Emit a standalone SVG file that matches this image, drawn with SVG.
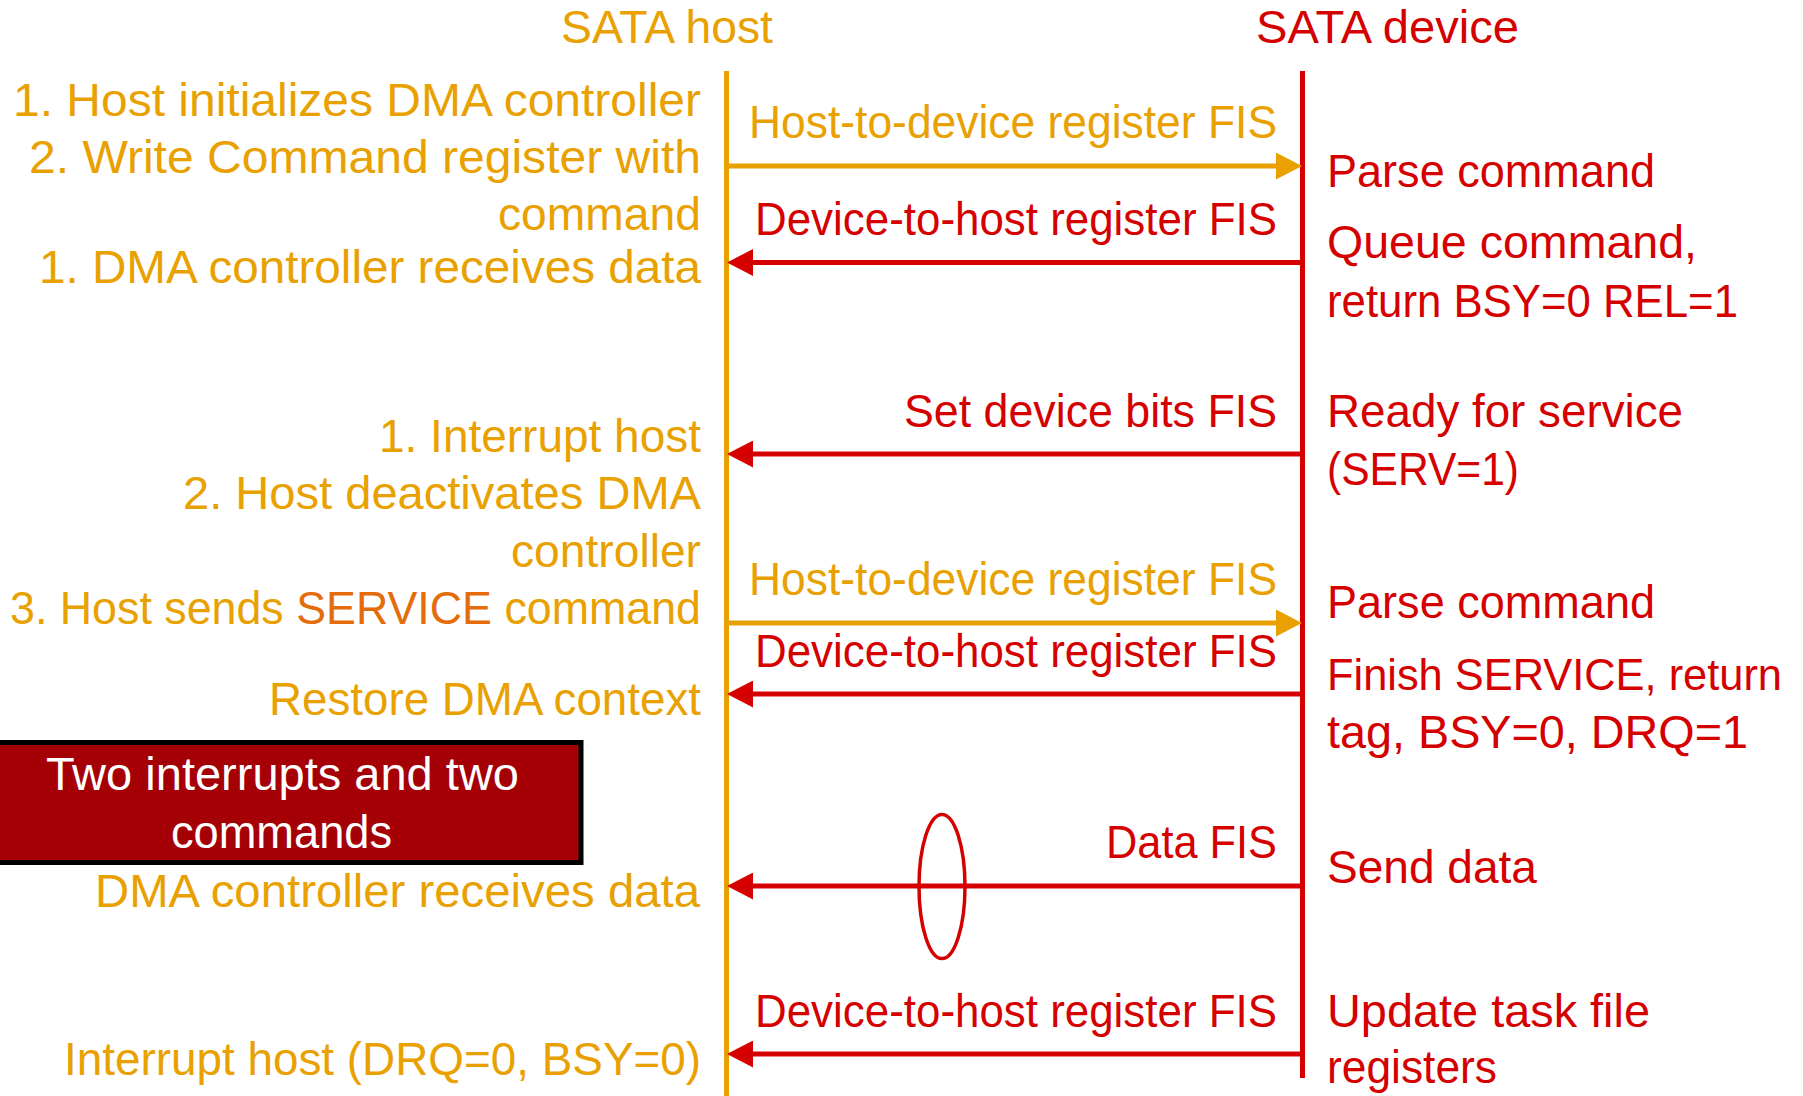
<svg xmlns="http://www.w3.org/2000/svg" width="1803" height="1096" viewBox="0 0 1803 1096">
  <style>
    text { font-family: "Liberation Sans", Arial, sans-serif; font-size: 47px; }
    .host { fill: #E8A100; }
    .dev { fill: #D50000; }
    .svc { fill: #E46C0A; }
    .white { fill: #FFFFFF; }
    .small { font-size: 44px; }
    .life-host { stroke: #E8A100; stroke-width: 5; fill: none; }
    .life-dev { stroke: #D50000; stroke-width: 5; fill: none; }
    .msg-h2d { stroke: #E8A100; stroke-width: 5; fill: none; marker-end: url(#headHost); }
    .msg-d2h { stroke: #D50000; stroke-width: 5; fill: none; marker-end: url(#headDev); }
  </style>
  <defs>
    <marker id="headHost" viewBox="0 0 26 27" refX="2" refY="13.5" markerWidth="26" markerHeight="27" markerUnits="userSpaceOnUse" orient="auto">
      <polygon points="0,0 26,13.5 0,27" fill="#E8A100"/>
    </marker>
    <marker id="headDev" viewBox="0 0 26 27" refX="2" refY="13.5" markerWidth="26" markerHeight="27" markerUnits="userSpaceOnUse" orient="auto">
      <polygon points="0,0 26,13.5 0,27" fill="#D50000"/>
    </marker>
  </defs>

  <rect width="1803" height="1096" fill="#FFFFFF"/>

  <!-- lifelines -->
  <g id="host">
    <text class="host" x="561" y="43" textLength="212" lengthAdjust="spacingAndGlyphs">SATA host</text>
    <line class="life-host" x1="726.5" y1="71" x2="726.5" y2="1096"/>
  </g>
  <g id="device">
    <text class="dev" x="1256" y="43" textLength="263" lengthAdjust="spacingAndGlyphs">SATA device</text>
    <line class="life-dev" x1="1302.5" y1="71" x2="1302.5" y2="1078"/>
  </g>

  <!-- messages between host and device -->
  <g id="connectors">
    <line class="msg-h2d" x1="729" y1="166" x2="1278" y2="166"/>
    <line class="msg-d2h" x1="1300" y1="262.5" x2="751" y2="262.5"/>
    <line class="msg-d2h" x1="1300" y1="454" x2="751" y2="454"/>
    <line class="msg-h2d" x1="729" y1="623" x2="1278" y2="623"/>
    <line class="msg-d2h" x1="1300" y1="694" x2="751" y2="694"/>
    <line class="msg-d2h" x1="1300" y1="886" x2="751" y2="886"/>
    <line class="msg-d2h" x1="1300" y1="1054" x2="751" y2="1054"/>
    <ellipse cx="942" cy="886.5" rx="23" ry="72" fill="none" stroke="#D50000" stroke-width="3.5"/>
  </g>

  <!-- message labels -->
  <g id="msg-labels">
    <text class="host" x="749" y="138" textLength="528" lengthAdjust="spacingAndGlyphs">Host-to-device register FIS</text>
    <text class="dev" x="755" y="235" textLength="522" lengthAdjust="spacingAndGlyphs">Device-to-host register FIS</text>
    <text class="dev" x="904" y="427" textLength="373" lengthAdjust="spacingAndGlyphs">Set device bits FIS</text>
    <text class="host" x="749" y="595" textLength="528" lengthAdjust="spacingAndGlyphs">Host-to-device register FIS</text>
    <text class="dev" x="755" y="667" textLength="522" lengthAdjust="spacingAndGlyphs">Device-to-host register FIS</text>
    <text class="dev" x="1106" y="858" textLength="171" lengthAdjust="spacingAndGlyphs">Data FIS</text>
    <text class="dev" x="755" y="1027" textLength="522" lengthAdjust="spacingAndGlyphs">Device-to-host register FIS</text>
  </g>

  <!-- host-side actions -->
  <g id="host-actions">
    <text class="host" x="13" y="116" textLength="688" lengthAdjust="spacingAndGlyphs">1. Host initializes DMA controller</text>
    <text class="host" x="29" y="173" textLength="672" lengthAdjust="spacingAndGlyphs">2. Write Command register with</text>
    <text class="host" x="498" y="230" textLength="203" lengthAdjust="spacingAndGlyphs">command</text>
    <text class="host" x="39" y="283" textLength="662" lengthAdjust="spacingAndGlyphs">1. DMA controller receives data</text>
    <text class="host" x="379" y="452" textLength="322" lengthAdjust="spacingAndGlyphs">1. Interrupt host</text>
    <text class="host" x="183" y="509" textLength="518" lengthAdjust="spacingAndGlyphs">2. Host deactivates DMA</text>
    <text class="host" x="511" y="567" textLength="190" lengthAdjust="spacingAndGlyphs">controller</text>
    <text class="host" x="10" y="624" textLength="691" lengthAdjust="spacingAndGlyphs">3. Host sends <tspan class="svc">SERVICE</tspan> command</text>
    <text class="host" x="269" y="715" textLength="432" lengthAdjust="spacingAndGlyphs">Restore DMA context</text>
    <text class="host" x="95" y="907" textLength="605" lengthAdjust="spacingAndGlyphs">DMA controller receives data</text>
    <text class="host" x="64" y="1075" textLength="637" lengthAdjust="spacingAndGlyphs">Interrupt host (DRQ=0, BSY=0)</text>
  </g>

  <!-- device-side actions -->
  <g id="device-actions">
    <text class="dev" x="1327" y="187" textLength="328" lengthAdjust="spacingAndGlyphs">Parse command</text>
    <text class="dev" x="1327" y="258" textLength="370" lengthAdjust="spacingAndGlyphs">Queue command,</text>
    <text class="dev" x="1327" y="317" textLength="411" lengthAdjust="spacingAndGlyphs">return BSY=0 REL=1</text>
    <text class="dev" x="1327" y="427" textLength="356" lengthAdjust="spacingAndGlyphs">Ready for service</text>
    <text class="dev" x="1327" y="485" textLength="192" lengthAdjust="spacingAndGlyphs">(SERV=1)</text>
    <text class="dev" x="1327" y="618" textLength="328" lengthAdjust="spacingAndGlyphs">Parse command</text>
    <text class="dev small" x="1327" y="690" textLength="455" lengthAdjust="spacingAndGlyphs">Finish SERVICE, return</text>
    <text class="dev" x="1327" y="748" textLength="421" lengthAdjust="spacingAndGlyphs">tag, BSY=0, DRQ=1</text>
    <text class="dev" x="1327" y="883" textLength="210" lengthAdjust="spacingAndGlyphs">Send data</text>
    <text class="dev" x="1327" y="1027" textLength="323" lengthAdjust="spacingAndGlyphs">Update task file</text>
    <text class="dev" x="1327" y="1083" textLength="170" lengthAdjust="spacingAndGlyphs">registers</text>
  </g>

  <!-- callout box -->
  <g id="callout">
    <rect x="-10" y="742.5" width="591" height="120" fill="#A50006" stroke="#000000" stroke-width="5"/>
    <text class="white" x="46" y="790" textLength="473" lengthAdjust="spacingAndGlyphs">Two interrupts and two</text>
    <text class="white" x="171" y="848" textLength="221" lengthAdjust="spacingAndGlyphs">commands</text>
  </g>
</svg>
